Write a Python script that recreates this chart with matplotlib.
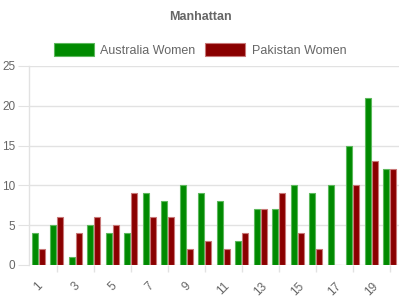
import matplotlib
matplotlib.use("Agg")
import matplotlib.pyplot as plt
import numpy as np

overs = [str(i) for i in range(1, 21)]
australia = [4, 5, 1, 5, 4, 4, 9, 8, 10, 9, 8, 3, 7, 7, 10, 9, 10, 15, 21, 12]
pakistan = [2, 6, 4, 6, 5, 9, 6, 6, 2, 3, 2, 4, 7, 9, 4, 2, 0, 10, 13, 12]
y_ticks = [0, 5, 10, 15, 20, 25]

plt.rcParams["font.family"] = ["Liberation Sans", "DejaVu Sans"]
grid_color = "#e2e2e2"
text_color = "#666666"

fig = plt.figure(figsize=(4, 3), dpi=100)
ax = fig.add_axes([0.0725, 0.117, 0.925, 0.663])

x = np.arange(len(overs))
w = 0.33
ax.bar(x - 0.18, australia, w, color="#008a00", edgecolor="#5cb85c", linewidth=0.8,
       label="Australia Women", zorder=3)
ax.bar(x + 0.18, pakistan, w, color="#8a0000", edgecolor="#c87878", linewidth=0.8,
       label="Pakistan Women", zorder=3)

ax.set_xlim(-0.5, len(overs) - 0.5)
ax.set_ylim(0, 25)
ax.set_yticks(y_ticks)
ax.set_yticklabels([str(v) for v in y_ticks], fontsize=8.5, color=text_color)
ax.yaxis.grid(True, color=grid_color, linewidth=1, zorder=0)
ax.tick_params(axis="y", length=8, color=grid_color, pad=2)

ax.set_xticks(x[::2])
ax.set_xticklabels(overs[::2], rotation=45, ha="center", fontsize=8.5, color=text_color)
ax.set_xticks(x[1::2], minor=True)
ax.tick_params(axis="x", which="major", length=0, pad=11)
ax.tick_params(axis="x", which="minor", length=5, color=grid_color, width=1)

for side in ["top", "right", "bottom"]:
    ax.spines[side].set_visible(False)
ax.spines["left"].set_color(grid_color)
ax.spines["left"].set_linewidth(1)

fig.text(0.5, 0.943, "Manhattan", ha="center", va="center", fontsize=9,
         fontweight="bold", color=text_color)
fig.legend(loc="center", bbox_to_anchor=(0.5, 0.833), ncol=2, frameon=False,
           fontsize=9, handlelength=3.2, handleheight=1.2, columnspacing=0.8,
           handletextpad=0.5, labelcolor=text_color)

fig.savefig("out.png", dpi=100, facecolor="white")
